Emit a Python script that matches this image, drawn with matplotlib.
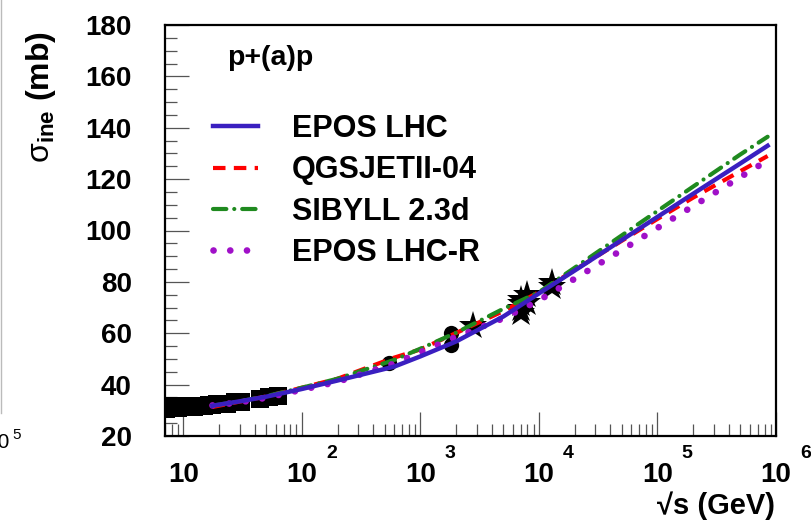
import numpy as np
import matplotlib
matplotlib.use('Agg')
import matplotlib.pyplot as plt
from matplotlib.transforms import blended_transform_factory, offset_copy
from matplotlib.lines import Line2D
from matplotlib.ticker import FixedLocator, NullFormatter

plt.rcParams['font.family'] = ['Liberation Sans', 'DejaVu Sans']
plt.rcParams['mathtext.fontset'] = 'custom'
plt.rcParams['mathtext.rm'] = 'Liberation Sans'
plt.rcParams['mathtext.bf'] = 'Liberation Sans:bold'
plt.rcParams['mathtext.it'] = 'Liberation Sans:italic'

# ---------------- data ----------------
energy = [17.6, 30, 50, 100, 200, 600, 1000, 2000, 5000, 1e4, 2e4, 5e4, 1e5, 2e5, 5e5, 8.5e5]
epos_lhc = [31.8, 33.5, 35.3, 38.3, 41.6, 47.0, 51.0, 56.8, 66.5, 75.5, 84.4, 96.3, 105.3, 114.3, 126.1, 133.0]
qgsjet = [31.3, 33.4, 35.4, 38.8, 42.3, 50.5, 53.7, 60.1, 68.6, 76.0, 84.6, 96.0, 104.5, 112.8, 123.1, 129.0]
sibyll = [31.8, 33.5, 35.5, 38.8, 42.3, 49.6, 54.0, 60.2, 69.5, 76.0, 85.5, 98.1, 107.6, 117.1, 129.6, 136.5]
epos_lhc_r = [31.9, 33.1, 34.9, 38.0, 41.1, 48.2, 52.6, 58.6, 65.8, 72.8, 81.2, 92.4, 101.0, 109.5, 120.8, 127.3]

sq_energy = [7.1, 7.5, 7.9, 8.4, 9.0, 9.7, 10.5, 11.3, 12.2, 13.8, 15.0, 16.5, 17.6, 19.4, 21.7, 23.5, 27.4, 30.6, 44.7, 52.8, 62.7]
sq_sigma = [30.6, 31.6, 30.8, 31.8, 31.0, 31.5, 31.2, 31.8, 31.3, 31.6, 31.7, 31.9, 32.0, 32.3, 32.5, 32.6, 33.2, 33.4, 34.5, 35.0, 35.6]
circ_energy = [546, 1800, 1800]
circ_sigma = [48.5, 60.0, 55.5]
star_energy = [2760, 7000, 7000, 7000, 7000, 8000, 8000, 13000, 13000]
star_sigma = [62.8, 73.0, 71.3, 69.4, 68.0, 74.7, 71.7, 79.5, 78.1]

labels = ['EPOS LHC', 'QGSJETII-04', 'SIBYLL 2.3d', 'EPOS LHC-R']
colors = ['#3a1fc0', '#ff0000', '#1f8a1f', '#a010c8']

yticks = [20, 40, 60, 80, 100, 120, 140, 160, 180]
ytick_labels = [str(v) for v in yticks]
xdecades = [10, 100, 1000, 10000, 100000, 1000000]
xdecade_exps = ['', '2', '3', '4', '5', '6']

# ---------------- figure ----------------
W, H = 812, 521
PT = 0.72  # points per pixel at dpi 100
fig = plt.figure(figsize=(W / 100, H / 100), dpi=100)
ax = fig.add_axes([165 / W, 1 - 436 / H, 611 / W, 411 / H])
ax.set_xscale('log')
ax.set_xlim(7, 1e6)
ax.set_ylim(20, 180)

# data points
ax.plot(sq_energy, sq_sigma, 's', color='black', ms=13, mew=0, zorder=2)
ax.plot(circ_energy, circ_sigma, 'o', color='black', ms=11, mew=0, zorder=2)
ax.plot(star_energy, star_sigma, '*', color='black', ms=21, mew=0, zorder=2)

# model curves
red_ls = (0, (3.0, 2.0))
green_ls = (0, (3.2, 1.9, 0.01, 1.9))
mag_ls = (0, (0.01, 2.5))
ax.plot(energy, qgsjet, color=colors[1], lw=3.0, linestyle=red_ls, zorder=3)
ax.plot(energy, sibyll, color=colors[2], lw=3.0, linestyle=green_ls,
        dash_capstyle='round', zorder=3)
ax.plot(energy, epos_lhc_r, color=colors[3], lw=4.8, linestyle=mag_ls,
        dash_capstyle='round', zorder=3)
ax.plot(energy, epos_lhc, color=colors[0], lw=3.2, zorder=4)

# legend
handles = [
    Line2D([], [], color=colors[0], lw=3.2),
    Line2D([], [], color=colors[1], lw=3.0, linestyle=red_ls),
    Line2D([], [], color=colors[2], lw=3.0, linestyle=green_ls, dash_capstyle='round'),
    Line2D([], [], color=colors[3], lw=4.8, linestyle=mag_ls, dash_capstyle='round'),
]
leg = ax.legend(handles, labels, loc='upper left', bbox_to_anchor=(0.0786, 0.783),
                frameon=False, borderpad=0, borderaxespad=0, handlelength=1.47,
                handletextpad=1.1, labelspacing=0.37,
                prop={'family': 'Liberation Sans', 'weight': 'bold', 'size': 22})

# text
ax.text(0.101, 0.903, 'p+(a)p', transform=ax.transAxes, fontsize=20.5, fontweight='bold',
        ha='left', va='baseline')

# axes styling
for s in ax.spines.values():
    s.set_linewidth(1.6)
    s.set_color('black')

ax.set_yticks(yticks)
ax.set_yticklabels(ytick_labels, fontsize=20, fontweight='bold')
ax.yaxis.set_minor_locator(FixedLocator(np.arange(20, 181, 5)))
minor_x = [m * 10 ** k for k in range(0, 6) for m in range(2, 10) if 7 <= m * 10 ** k <= 1e6]
ax.xaxis.set_major_locator(FixedLocator(xdecades))
ax.xaxis.set_minor_locator(FixedLocator(minor_x))
ax.xaxis.set_major_formatter(NullFormatter())
ax.xaxis.set_minor_formatter(NullFormatter())
ax.tick_params(which='major', direction='in', length=17, width=0.9, color='#555555',
               top=False, right=False)
ax.tick_params(which='minor', direction='in', length=8.6, width=0.9, color='#555555',
               top=False, right=False)
ax.tick_params(axis='y', which='major', pad=24)

trans = blended_transform_factory(ax.transData, ax.transAxes)
for xv, ex in zip(xdecades, xdecade_exps):
    ax.text(xv, 0, '10', transform=offset_copy(trans, fig=fig, x=0, y=-45.7 * PT, units='points'),
            ha='center', va='baseline', fontsize=20, fontweight='bold')
    if ex:
        ax.text(xv, 0, ex, transform=offset_copy(trans, fig=fig, x=24 * PT, y=-22 * PT, units='points'),
                ha='left', va='baseline', fontsize=14, fontweight='bold')

ax.text(1.0, 0, '\u221as (GeV)', transform=offset_copy(ax.transAxes, fig=fig, x=-1 * PT, y=-78 * PT, units='points'),
        ha='right', va='baseline', fontsize=21, fontweight='bold')

ax.text(-0.203, 0.985, r'$\mathrm{\sigma}_{\mathbf{ine}}$ (mb)', transform=ax.transAxes,
        rotation=90, ha='center', va='top', fontsize=23, fontweight='bold')

# remnant of neighbouring panel at the left edge
fig.add_artist(Line2D([0.6 / W, 0.6 / W], [1 - 413 / H, 1.0], transform=fig.transFigure,
                      color='#bbbbbb', lw=1.0))
fig.text(10 / W, 1 - 448 / H, '10', ha='right', va='baseline', fontsize=15)
fig.text(12 / W, 1 - 439 / H, '5', ha='left', va='baseline', fontsize=11)

fig.savefig('out.png', dpi=100)
